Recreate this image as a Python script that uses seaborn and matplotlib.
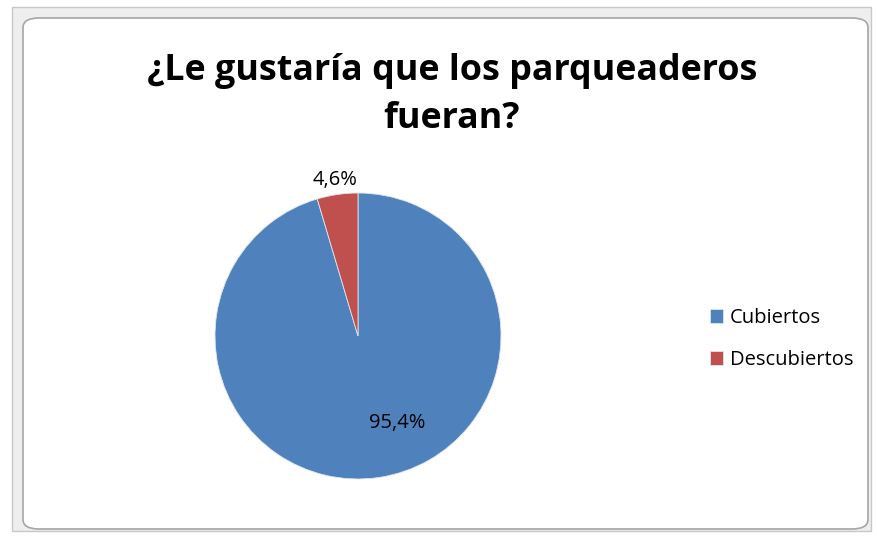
import matplotlib
matplotlib.use("Agg")
import matplotlib.pyplot as plt
from matplotlib.patches import FancyBboxPatch, Rectangle
import numpy as np
import seaborn as sns

# Survey answers: preferred parking type
categories = ["Cubiertos", "Descubiertos"]
percentages = [95.4, 4.6]
value_labels = ["95,4%", "4,6%"]
title_text = "¿Le gustaría que los parqueaderos\nfueran?"

# label placement (radius in pie units, angle in degrees)
label_radius = [0.67, 1.10]
label_angle = [-65.8, 98.3]

sns.set_theme(style="white")
plt.rcParams["font.family"] = ["Open Sans", "DejaVu Sans"]
plt.rcParams["text.color"] = "black"

colors = ["#4F81BD", "#C0504D"]

W, H = 877, 537
fig = plt.figure(figsize=(W / 100, H / 100), dpi=100)
fig.patch.set_facecolor("white")

# chart-object frame: grey outer band with a rounded white plot area
band = Rectangle((12 / W, (H - 531) / H), (871 - 12) / W, (531 - 7) / H,
                 transform=fig.transFigure, facecolor="#eeeeee",
                 edgecolor="#c8c8c8", linewidth=1.0, zorder=0)
fig.add_artist(band)
inner = FancyBboxPatch((23 / W, (H - 529) / H), (868 - 23) / W, (529 - 18) / H,
                       boxstyle="round,pad=0,rounding_size=0.018",
                       transform=fig.transFigure, facecolor="white",
                       edgecolor="#a6a6a6", linewidth=1.2, zorder=1)
fig.add_artist(inner)

# pie axes: center (358, 336) px, radius 143 px
cx, cy, r = 358, 336, 143
ax = fig.add_axes([(cx - r) / W, (H - cy - r) / H, 2 * r / W, 2 * r / H])
ax.set_zorder(2)
ax.patch.set_alpha(0)
wedges, _ = ax.pie(percentages, colors=colors, startangle=90, counterclock=False,
                   radius=1, wedgeprops=dict(edgecolor="#dfe6f0", linewidth=0.6))
ax.set_xlim(-1, 1)
ax.set_ylim(-1, 1)
ax.set_aspect("auto")
ax.axis("off")

for lbl, rad, ang in zip(value_labels, label_radius, label_angle):
    t = np.deg2rad(ang)
    ax.text(rad * np.cos(t), rad * np.sin(t), lbl, ha="center", va="center",
            fontsize=14.5, color="black", clip_on=False)

fig.text(452 / W, 1 - 95 / H, title_text, ha="center", va="center",
         fontsize=25.8, fontweight="bold", color="black", linespacing=1.42)

leg = fig.legend(wedges, categories, loc="center left",
                 bbox_to_anchor=(700 / W, 1 - 339 / H), frameon=False,
                 fontsize=14.5, handlelength=0.65, handleheight=0.65,
                 handletextpad=0.35, labelspacing=1.1, borderpad=0,
                 labelcolor="black")
leg.set_zorder(3)

fig.savefig("out.png", dpi=100)
